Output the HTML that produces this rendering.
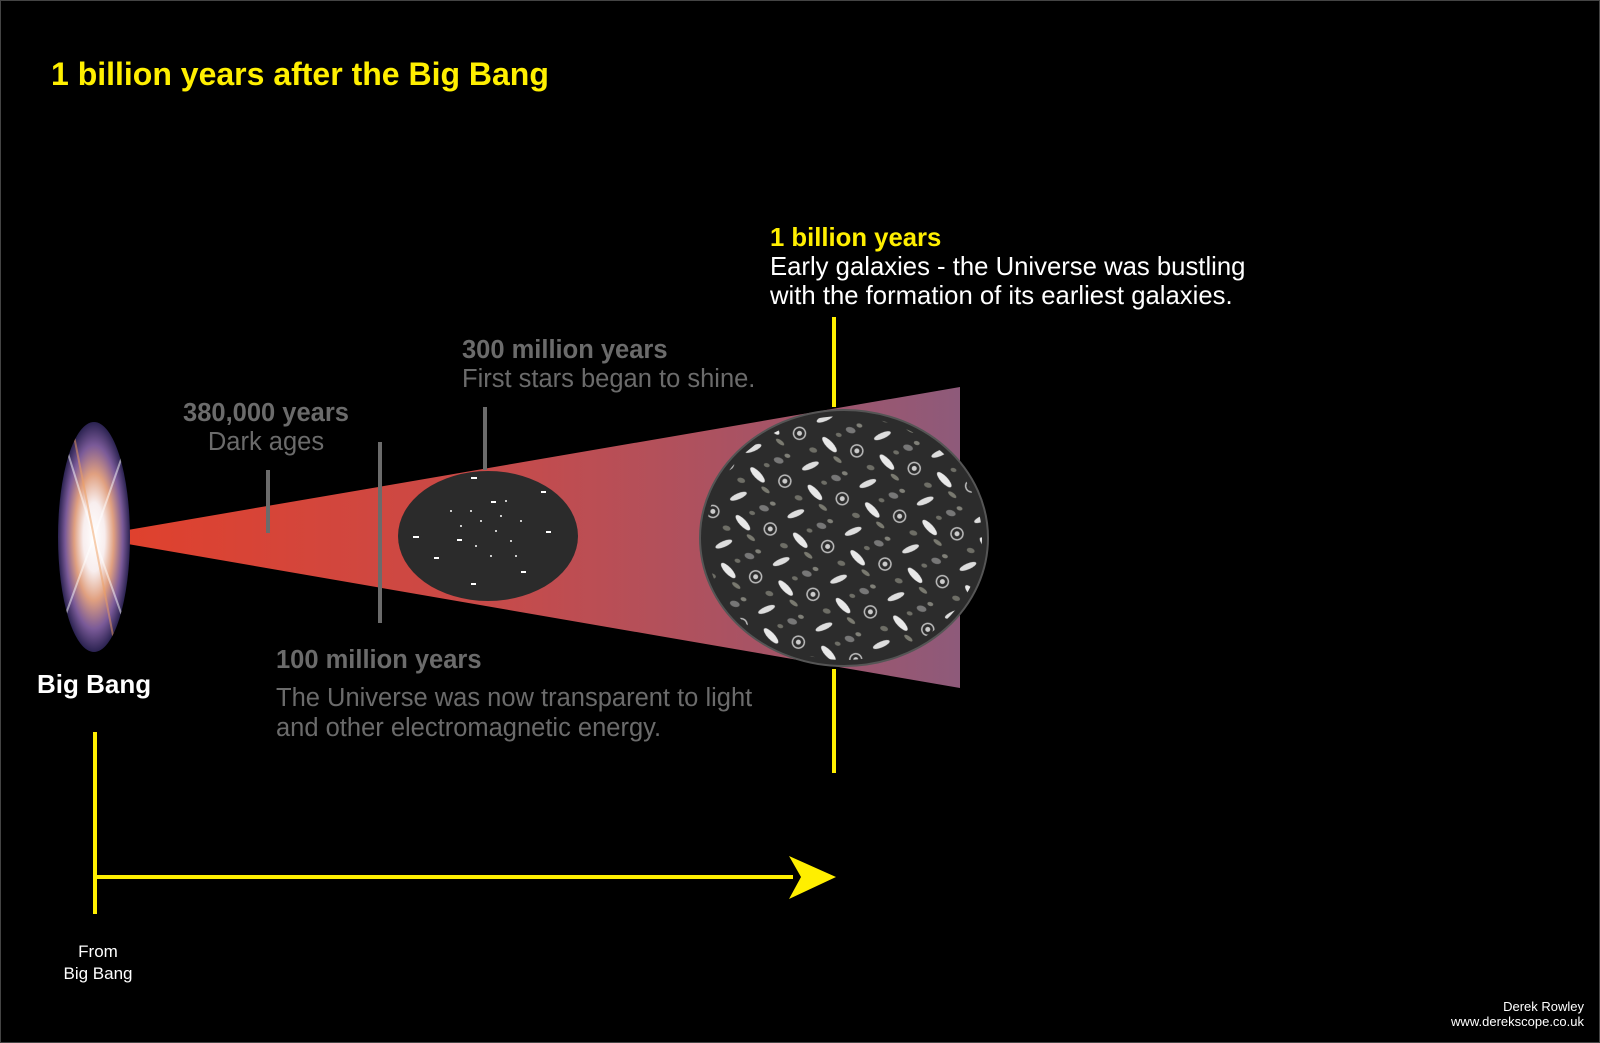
<!DOCTYPE html>
<html><head><meta charset="utf-8"><style>
html,body{margin:0;padding:0;background:#000;}
#c{position:relative;width:1600px;height:1043px;background:#000;overflow:hidden;font-family:"Liberation Sans",Arial,sans-serif;box-sizing:border-box;border:1px solid #444;}
.t{position:absolute;white-space:nowrap;}
.g{color:#6b6b6b;font-size:25.5px;}
.b{font-weight:bold;}
</style></head><body><div id="c">
<svg width="1600" height="1043" style="position:absolute;left:0;top:0">
<defs>
<linearGradient id="cone" x1="0" x2="1" y1="0" y2="0">
<stop offset="0" stop-color="#e2402a"/><stop offset="0.45" stop-color="#c94a48"/><stop offset="1" stop-color="#8e5a7a"/>
</linearGradient>
<radialGradient id="bb" cx="0.5" cy="0.5" r="0.5">
<stop offset="0" stop-color="#ffffff"/><stop offset="0.3" stop-color="#f8eeee"/><stop offset="0.55" stop-color="#e0a080"/><stop offset="0.8" stop-color="#7a5a98"/><stop offset="1" stop-color="#2a2250"/>
</radialGradient>
<pattern id="gal" width="60" height="50" patternUnits="userSpaceOnUse" patternTransform="rotate(17)">
<ellipse cx="10" cy="8" rx="9" ry="3" fill="#ddd" transform="rotate(-40 10 8)"/>
<ellipse cx="38" cy="12" rx="5" ry="3" fill="#777"/>
<circle cx="50" cy="30" r="6" fill="none" stroke="#bbb" stroke-width="1.5"/>
<circle cx="50" cy="30" r="2.5" fill="#ccc"/>
<ellipse cx="22" cy="32" rx="10" ry="3.5" fill="#e8e8e8" transform="rotate(30 22 32)"/>
<ellipse cx="8" cy="42" rx="4" ry="2.5" fill="#6e6e66"/>
<ellipse cx="34" cy="44" rx="5" ry="2" fill="#7a7a70" transform="rotate(20 34 44)"/>
<ellipse cx="45" cy="5" rx="3" ry="2" fill="#808078"/>
<ellipse cx="28" cy="20" rx="3" ry="2" fill="#6e6e66"/>
</pattern>
<clipPath id="bbc"><ellipse cx="93" cy="536" rx="36" ry="115"/></clipPath>
</defs>
<polygon points="86,536 959,386 959,687" fill="url(#cone)"/>
<ellipse cx="93" cy="536" rx="36" ry="115" fill="url(#bb)"/>
<g clip-path="url(#bbc)" stroke="#fff" stroke-opacity="0.5" stroke-width="2">
<line x1="93" y1="536" x2="60" y2="430"/><line x1="93" y1="536" x2="130" y2="430"/>
<line x1="93" y1="536" x2="55" y2="640"/><line x1="93" y1="536" x2="130" y2="640"/>
<line x1="93" y1="536" x2="70" y2="420" stroke="#f0a060"/><line x1="93" y1="536" x2="115" y2="650" stroke="#f0a060"/>
</g>
<ellipse cx="487" cy="535" rx="90" ry="65" fill="#2b2b2b"/>
<g fill="#fff">
<rect x="470" y="476" width="6" height="2"/><rect x="540" y="490" width="5" height="2"/><rect x="412" y="535" width="6" height="2"/>
<rect x="456" y="538" width="5" height="2"/><rect x="545" y="530" width="5" height="2"/><rect x="433" y="556" width="5" height="2"/>
<rect x="470" y="582" width="5" height="2"/><rect x="520" y="570" width="5" height="2"/><rect x="490" y="500" width="5" height="2"/>
<circle cx="480" cy="520" r="1"/><circle cx="500" cy="515" r="1"/><circle cx="470" cy="510" r="1"/><circle cx="510" cy="540" r="1"/>
<circle cx="490" cy="555" r="1"/><circle cx="460" cy="525" r="1"/><circle cx="520" cy="520" r="1"/><circle cx="505" cy="500" r="1"/>
<circle cx="475" cy="545" r="1"/><circle cx="495" cy="530" r="1"/><circle cx="515" cy="555" r="1"/><circle cx="450" cy="510" r="1"/>
</g>
<ellipse cx="843" cy="537" rx="144" ry="128" fill="#2c2c2c" stroke="#555" stroke-width="2"/>
<ellipse cx="843" cy="537" rx="138" ry="122" fill="url(#gal)"/>
<g fill="#6b6b6b">
<rect x="265" y="469" width="4" height="63"/><rect x="377" y="441" width="4" height="181"/><rect x="482" y="406" width="4" height="63"/>
</g>
<g fill="#ffef00">
<rect x="831" y="316" width="4" height="90"/><rect x="831" y="668" width="4" height="104"/>
<rect x="92" y="731" width="4" height="182"/><rect x="92" y="874" width="700" height="4"/>
<polygon points="788,855 835,876 788,898 800,876"/>
</g>
</svg>
<div class="t b" style="left:50px;top:55px;font-size:32px;color:#ffef00">1 billion years after the Big Bang</div>
<div class="t b" style="left:36px;top:668px;font-size:26px;color:#fff">Big Bang</div>
<div class="t" style="left:47px;top:940px;width:100px;text-align:center;font-size:17px;line-height:22px;color:#fff;white-space:normal">From<br>Big Bang</div>
<div class="t g" style="left:165px;top:398px;width:200px;text-align:center;line-height:29px"><span class="b">380,000 years</span><br>Dark ages</div>
<div class="t g" style="left:461px;top:335px;line-height:29px"><span class="b">300 million years</span><br>First stars began to shine.</div>
<div class="t g b" style="left:275px;top:645px">100 million years</div>
<div class="t g" style="left:275px;top:682px;line-height:30px">The Universe was now transparent to light<br>and other electromagnetic energy.</div>
<div class="t" style="left:769px;top:223px;font-size:25.7px;line-height:29px;color:#fff"><span class="b" style="color:#ffef00">1 billion years</span><br>Early galaxies - the Universe was bustling<br>with the formation of its earliest galaxies.</div>
<div class="t" style="right:15px;top:998px;font-size:13px;line-height:15px;color:#fff;text-align:right">Derek Rowley<br>www.derekscope.co.uk</div>
</div></body></html>
